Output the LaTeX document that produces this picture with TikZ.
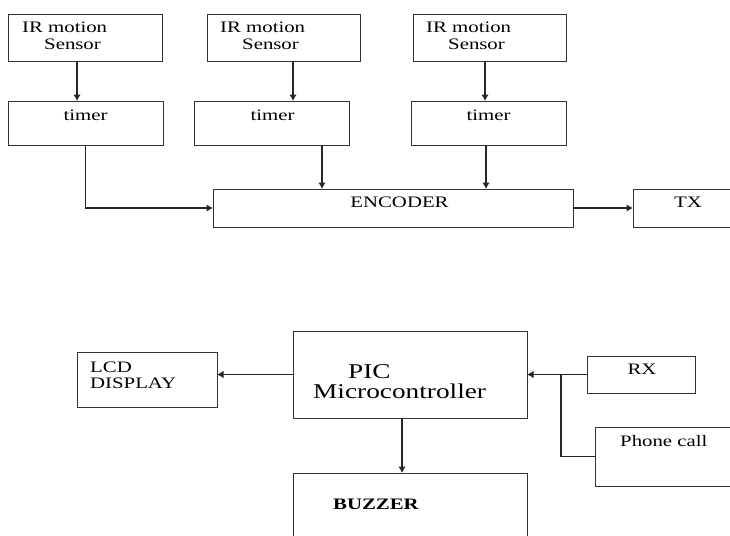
\documentclass[tikz,border=0pt]{standalone}
\usepackage{fontspec}
\setmainfont{Liberation Serif}[FakeStretch=1.3]
\usetikzlibrary{arrows.meta,calc}

\begin{document}
\begin{tikzpicture}[x=1pt,y=-1pt,
  block/.style={draw=black!80,line width=0.9pt,shape=rectangle,inner sep=0pt,outer sep=0pt},
  txt/.style={inner sep=0pt,anchor=base west,font=\fontsize{16}{17}\selectfont},
  ctxt/.style={txt,anchor=base},
  bigtxt/.style={txt,font=\fontsize{21}{22}\selectfont},
  wire/.style={draw=black!85,line width=1.2pt},
  arr/.style={wire,-{Latex[length=6.5pt,width=7.5pt]}}]
\fill[white] (0,0) rectangle (730,535);
\useasboundingbox (0,0) rectangle (730,535);
% transmitter side
\node[block,minimum width=154pt,minimum height=47pt] (s1) at (85,37.5) {};
\node[block,minimum width=153pt,minimum height=47pt] (s2) at (283.5,37.5) {};
\node[block,minimum width=153pt,minimum height=47pt] (s3) at (489.5,37.5) {};
\node[block,minimum width=155pt,minimum height=44pt] (t1) at (85.5,123) {};
\node[block,minimum width=155pt,minimum height=44pt] (t2) at (271.5,123) {};
\node[block,minimum width=155pt,minimum height=44pt] (t3) at (488.5,123) {};
\node[block,minimum width=360pt,minimum height=38pt] (enc) at (393,208) {};
\node[block,minimum width=137pt,minimum height=38pt] (tx) at (701.5,208) {};
\node[txt] (s1a) at (22,33) {IR motion};
\node[txt] (s1b) at (44,50) {Sensor};
\node[txt] (s2a) at (220,33) {IR motion};
\node[txt] (s2b) at (242,50) {Sensor};
\node[txt] (s3a) at (426,33) {IR motion};
\node[txt] (s3b) at (448,50) {Sensor};
\node[ctxt] (t1a) at (85.5,120) {timer};
\node[ctxt] (t2a) at (272.5,120) {timer};
\node[ctxt] (t3a) at (488.5,120) {timer};
\node[ctxt] (enca) at (399.5,207) {ENCODER};
\node[ctxt] (txa) at (688,207) {TX};
\draw[arr] ([xshift=-8pt]s1.south) -- ([xshift=-8pt]s1.south |- t1.north);
\draw[arr] ([xshift=9.5pt]s2.south) -- ([xshift=9.5pt]s2.south |- t2.north);
\draw[arr] ([xshift=-4.5pt]s3.south) -- ([xshift=-4.5pt]s3.south |- t3.north);
\draw[arr] (t1.south) |- (enc.west);
\draw[arr] ([xshift=50.5pt]t2.south) -- ([xshift=50.5pt]t2.south |- enc.north);
\draw[arr] ([xshift=-2.5pt]t3.south) -- ([xshift=-2.5pt]t3.south |- enc.north);
\draw[arr] (enc.east) -- (tx.west);
% receiver side
\node[block,minimum width=140pt,minimum height=55pt] (lcd) at (147,379.5) {};
\node[block,minimum width=234pt,minimum height=87pt] (pic) at (410,374.5) {};
\node[block,minimum width=108pt,minimum height=37pt] (rx) at (641,374.5) {};
\node[block,minimum width=175pt,minimum height=59pt] (ph) at (682.5,456.5) {};
\node[block,minimum width=234pt,minimum height=97pt] (buz) at (410,521.5) {};
\coordinate (jn) at (561,374.5);
\node[txt] (lcda) at (90,372) {LCD};
\node[txt] (lcdb) at (90,388) {DISPLAY};
\node[bigtxt] (pica) at (348,378) {PIC};
\node[bigtxt] (picb) at (313,398) {Microcontroller};
\node[ctxt] (rxa) at (642,374) {RX};
\node[txt] (pha) at (620,446) {Phone call};
\node[txt] (buza) at (333,509) {\bfseries BUZZER};
\draw[arr] (pic.west) -- (pic.west -| lcd.east);
\draw[arr] (rx.west) -- (rx.west -| pic.east);
\draw[wire] (ph.west) -| (jn);
\draw[arr] ([xshift=-8pt]pic.south) -- ([xshift=-8pt]pic.south |- buz.north);
\end{tikzpicture}
\end{document}
